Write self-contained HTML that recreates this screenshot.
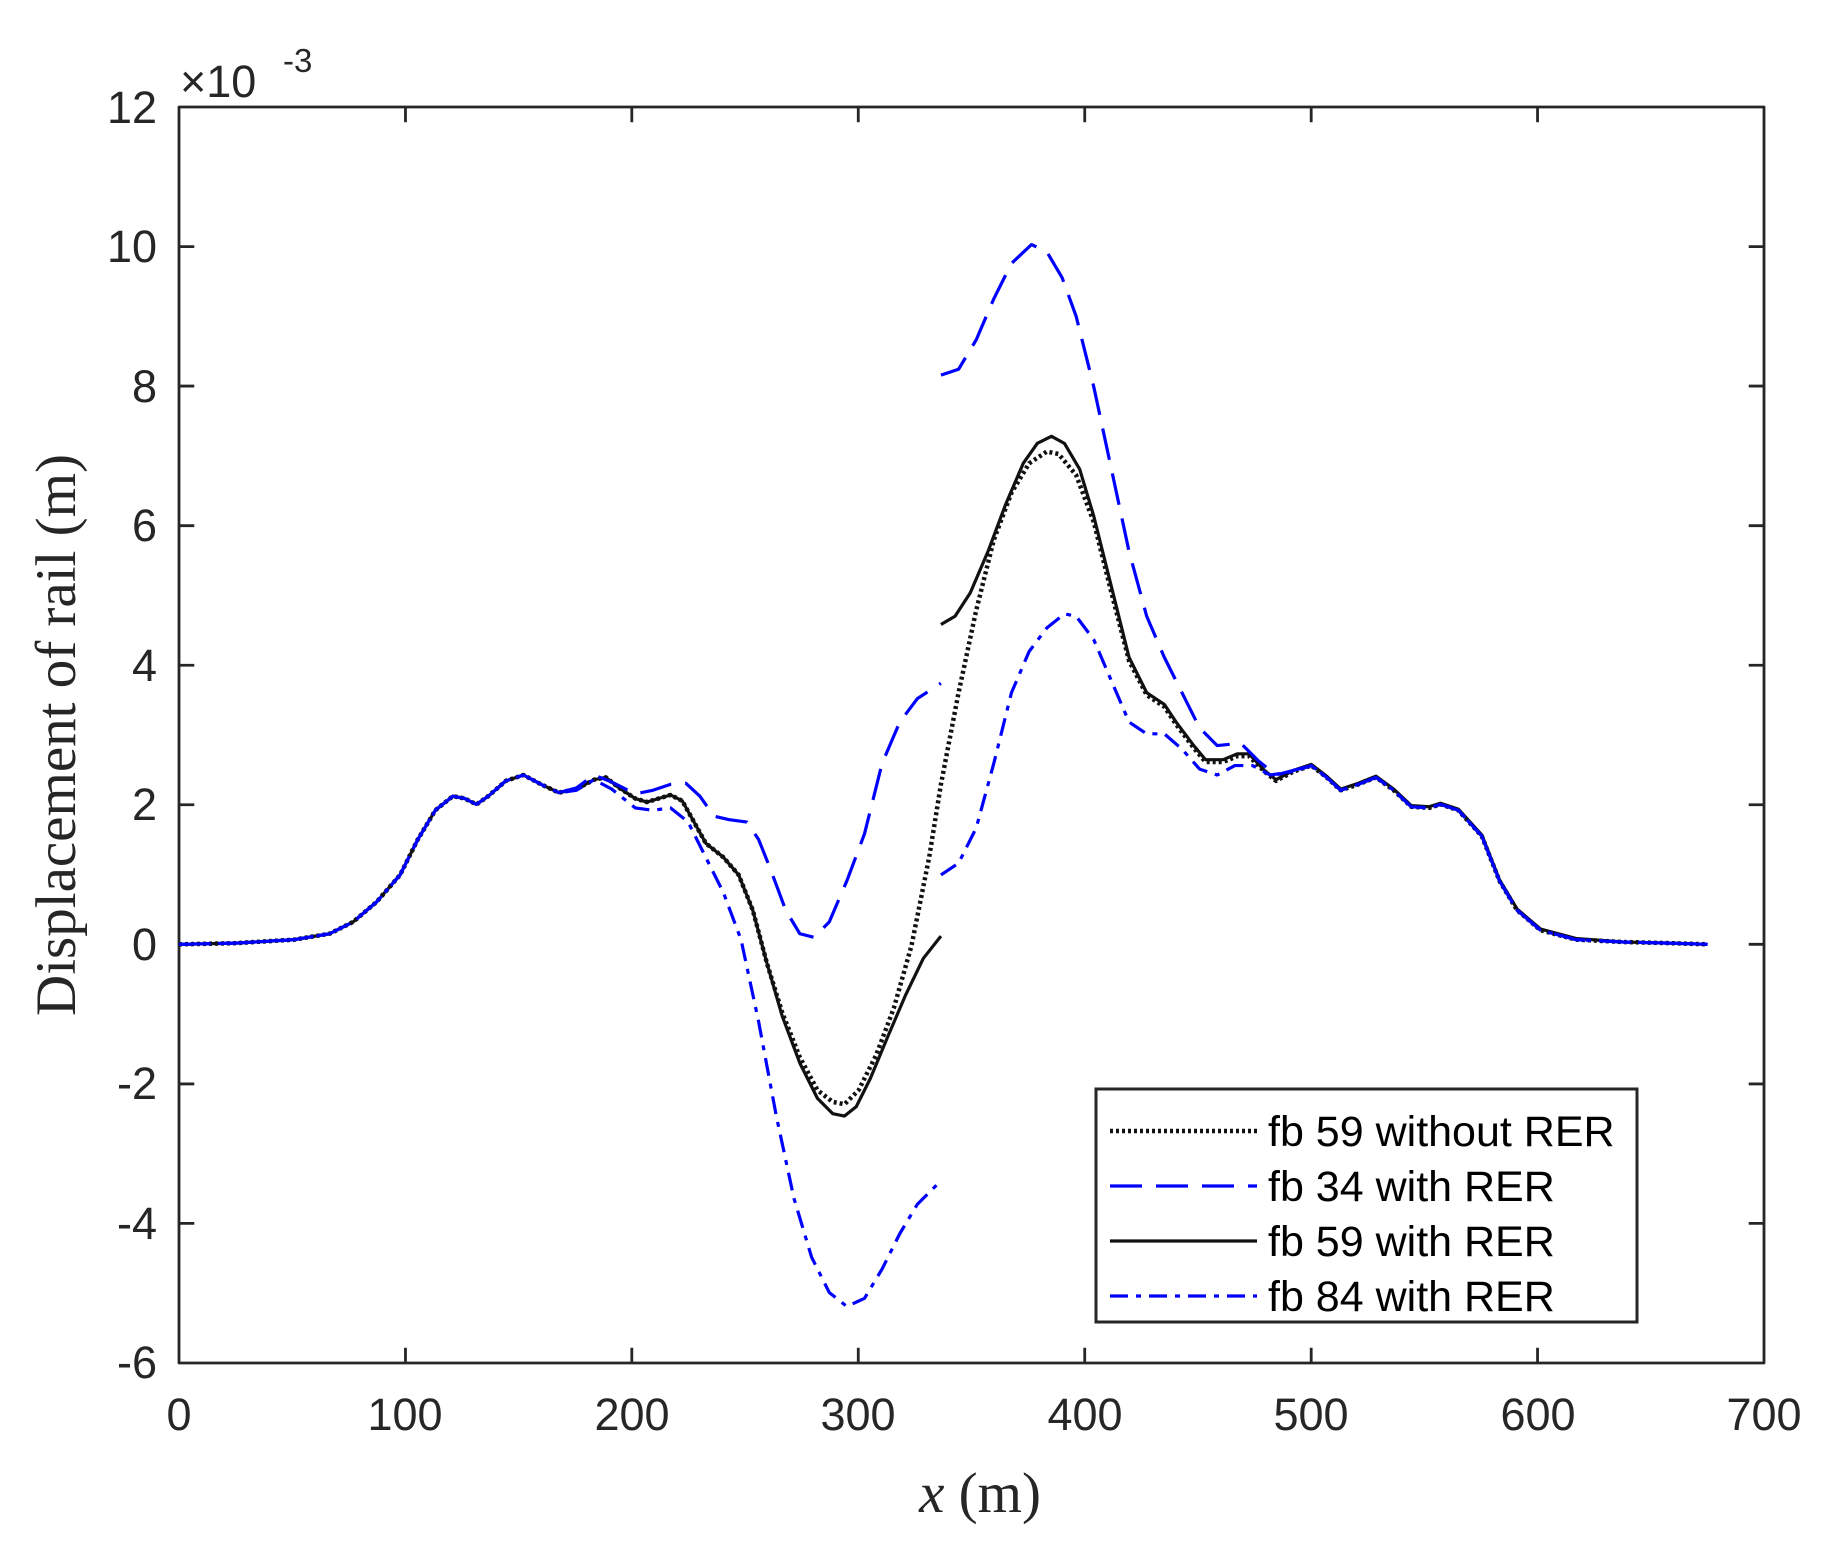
<!DOCTYPE html>
<html><head><meta charset="utf-8"><style>
body{margin:0;background:#fff}
svg text{font-family:"Liberation Sans",Arial,sans-serif;fill:#262626}
</style></head><body>
<svg width="1843" height="1558" viewBox="0 0 1843 1558" xmlns="http://www.w3.org/2000/svg">
<rect width="1843" height="1558" fill="#fff"/>
<g transform="translate(179,107) scale(1.17582,1.17603) translate(-152,-92)" fill="none" stroke-linejoin="round" stroke-linecap="butt">
<g stroke="#262626" stroke-width="2.8" vector-effect="non-scaling-stroke">
<rect x="152" y="92" width="1348" height="1068" vector-effect="non-scaling-stroke"/>
<path vector-effect="non-scaling-stroke" d="M344.6,1160v-13M537.1,1160v-13M729.7,1160v-13M922.3,1160v-13M1114.9,1160v-13M1307.4,1160v-13
M344.6,92v13M537.1,92v13M729.7,92v13M922.3,92v13M1114.9,92v13M1307.4,92v13
M152,1041.3h13M152,922.7h13M152,804h13M152,685.3h13M152,566.7h13M152,448h13M152,329.3h13M152,210.7h13
M1500,1041.3h-13M1500,922.7h-13M1500,804h-13M1500,685.3h-13M1500,566.7h-13M1500,448h-13M1500,329.3h-13M1500,210.7h-13"/>
</g>
<path vector-effect="non-scaling-stroke" stroke="#111" stroke-width="4.5" stroke-dasharray="3,3" d="M152,804 L200,803 L250,800 L280,795 L300,785 L320,768 L340,745 L355,715 L370,690 L385,678 L395,680 L405,685 L415,678 L430,665 L445,660 L460,668 L475,675 L490,672 L505,664 L515,662 L525,670 L540,680 L550,683 L560,680 L570,677 L580,682 L590,700 L600,718 L615,730 L628,745 L640,775 L652,820 L665,862 L680,900 L695,928 L708,938 L718,940 L730,928 L745,898 L760,858 L775,805 L790,730 L800,668 L815,590 L830,520 L845,460 L860,420 L875,395 L890,385 L900,387 L915,405 L930,445 L945,505 L960,563 L975,592 L990,602 L1000,617 L1015,637 L1025,649 L1040,649 L1052,644 L1062,644 L1075,657 L1085,665 L1100,657 L1115,652 L1128,662 L1140,673 L1155,668 L1170,662 L1185,673 L1200,687 L1215,688 L1225,685 L1240,690 L1260,712 L1275,750 L1290,775 L1310,792 L1340,800 L1380,802 L1420,803 L1452,804"/>
<path vector-effect="non-scaling-stroke" stroke="#111" stroke-width="3.2" d="M152,804 L200,803 L250,800 L280,795 L300,785 L320,768 L340,745 L355,715 L370,690 L385,678 L395,680 L405,685 L415,678 L430,665 L445,660 L460,668 L475,675 L490,672 L505,664 L515,662 L525,670 L540,680 L550,683 L560,680 L570,677 L580,682 L590,700 L600,718 L615,730 L628,745 L640,775 L652,820 L665,865 L680,905 L695,935 L708,948 L718,950 L728,942 L740,918 L755,882 L770,847 L785,816 L800,797 M800,532 L812,525 L825,505 L840,470 L855,430 L870,395 L882,378 L894,372 L905,378 L918,400 L930,440 L945,500 L960,560 L975,590 L990,600 L1000,615 L1015,635 L1025,647 L1040,647 L1052,642 L1062,642 L1075,656 L1085,664 L1100,656 L1115,651 L1128,661 L1140,672 L1155,667 L1170,661 L1185,672 L1200,686 L1215,687 L1225,684 L1240,689 L1260,711 L1275,749 L1290,774 L1310,791 L1340,799 L1380,802 L1420,803 L1452,804"/>
<path vector-effect="non-scaling-stroke" stroke="#0000ff" stroke-width="3.2" stroke-dasharray="32,14" d="M152,804 L200,803 L250,800 L280,795 L300,785 L320,768 L340,745 L355,715 L370,690 L385,678 L395,680 L405,685 L415,678 L430,665 L445,660 L460,668 L475,675 L490,671 L505,660 L520,666 L540,676 L555,673 L570,668 L583,667 L595,678 L607,695 L620,698 L635,700 L645,715 L655,740 L668,775 L680,795 L692,798 L705,785 L720,750 L735,710 L750,650 L765,615 L780,595 L800,582 M800,320 L815,315 L830,290 L845,255 L860,225 L877,209 L890,215 L903,237 L915,270 L930,330 L945,400 L960,470 L975,525 L990,560 L1005,590 L1020,620 L1035,635 L1055,633 L1070,648 L1085,660 L1100,656 L1115,652 L1128,662 L1140,673 L1155,668 L1170,662 L1185,673 L1200,687 L1215,688 L1225,685 L1240,690 L1260,712 L1275,750 L1290,775 L1310,792 L1340,800 L1380,802 L1420,803 L1452,804"/>
<path vector-effect="non-scaling-stroke" stroke="#0000ff" stroke-width="3.2" stroke-dasharray="18,8,5,8" d="M152,804 L200,803 L250,800 L280,795 L300,785 L320,768 L340,745 L355,715 L370,690 L385,678 L395,680 L405,685 L415,678 L430,665 L445,660 L460,668 L475,675 L490,673 L505,664 L520,672 L540,688 L555,690 L570,688 L585,700 L600,730 L615,760 L630,800 L645,870 L660,950 L675,1020 L690,1070 L705,1100 L720,1112 L735,1105 L750,1080 L765,1050 L780,1025 L800,1005 M800,745 L815,735 L830,705 L845,650 L860,590 L875,555 L890,535 L905,523 L915,525 L930,545 L945,580 L960,615 L975,625 L990,625 L1005,638 L1020,655 L1035,660 L1050,652 L1065,652 L1080,660 L1100,657 L1115,652 L1128,662 L1140,673 L1155,668 L1170,662 L1185,673 L1200,687 L1215,688 L1225,685 L1240,690 L1260,712 L1275,750 L1290,775 L1310,792 L1340,800 L1380,802 L1420,803 L1452,804"/>
</g>
<g font-size="45" text-anchor="middle">
<text x="179" y="1430">0</text><text x="405" y="1430">100</text><text x="632" y="1430">200</text><text x="858" y="1430">300</text><text x="1085" y="1430">400</text><text x="1311" y="1430">500</text><text x="1538" y="1430">600</text><text x="1764" y="1430">700</text>
</g>
<g font-size="45" text-anchor="end">
<text x="157" y="1378">-6</text><text x="157" y="1239">-4</text><text x="157" y="1099">-2</text><text x="157" y="960">0</text><text x="157" y="820">2</text><text x="157" y="681">4</text><text x="157" y="541">6</text><text x="157" y="402">8</text><text x="157" y="262">10</text><text x="157" y="123">12</text>
</g>
<text x="180" y="97" font-size="45">×10</text><text x="283" y="72" font-size="33">-3</text>
<text x="980" y="1512" font-size="57" text-anchor="middle" style="font-family:'Liberation Serif',serif"><tspan font-style="italic">x</tspan> (m)</text>
<text transform="translate(75,735) rotate(-90)" font-size="57" text-anchor="middle" style="font-family:'Liberation Serif',serif">Displacement of rail (m)</text>
<rect x="1096" y="1089" width="541" height="233" fill="#fff" stroke="#262626" stroke-width="3"/>
<g stroke-width="3.2" fill="none">
<line x1="1110" y1="1131" x2="1257" y2="1131" stroke="#111" stroke-width="4.5" stroke-dasharray="3,3"/>
<line x1="1110" y1="1186" x2="1257" y2="1186" stroke="#00f" stroke-dasharray="32,14"/>
<line x1="1110" y1="1241" x2="1257" y2="1241" stroke="#111"/>
<line x1="1110" y1="1296" x2="1257" y2="1296" stroke="#00f" stroke-dasharray="18,8,5,8"/>
</g>
<g font-size="43">
<text x="1268" y="1146" style="fill:#000">fb 59 without RER</text>
<text x="1268" y="1201" style="fill:#000">fb 34 with RER</text>
<text x="1268" y="1256" style="fill:#000">fb 59 with RER</text>
<text x="1268" y="1311" style="fill:#000">fb 84 with RER</text>
</g>
</svg>
</body></html>
